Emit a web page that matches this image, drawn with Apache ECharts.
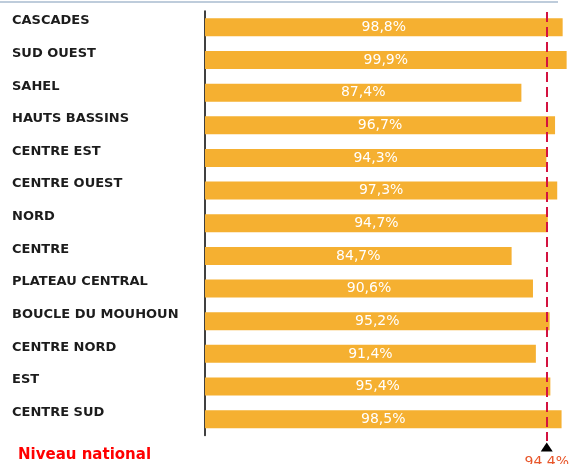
<!DOCTYPE html>
<html>
<head>
<meta charset="utf-8">
<script src="https://cdn.jsdelivr.net/npm/echarts@6/dist/echarts.min.js"></script>
<style>
  html, body { margin: 0; padding: 0; background: #fff; }
  #chart { width: 570px; height: 464px; }
</style>
</head>
<body>
<div id="chart"></div>
<script>
// régions, de haut en bas
const regions = [
  'CASCADES', 'SUD OUEST', 'SAHEL', 'HAUTS BASSINS', 'CENTRE EST', 'CENTRE OUEST', 'NORD',
  'CENTRE', 'PLATEAU CENTRAL', 'BOUCLE DU MOUHOUN', 'CENTRE NORD', 'EST', 'CENTRE SUD'
];
const taux = [98.8, 99.9, 87.4, 96.7, 94.3, 97.3, 94.7, 84.7, 90.6, 95.2, 91.4, 95.4, 98.5];
const niveauNational = 94.4;

const fmt = v => v.toFixed(1).replace('.', ',') + '%';

const chart = echarts.init(document.getElementById('chart'));
chart.setOption({
  animation: false,
  title: {
    text: 'Niveau national', left: 18, top: 448, padding: 0,
    textStyle: { color: '#ff0000', fontSize: 15, fontWeight: 'bold', fontFamily: 'DejaVu Sans' }
  },
  graphic: [
    { type: 'line', shape: { x1: 0, y1: 2, x2: 558, y2: 2 }, style: { stroke: '#a9bbcf', lineWidth: 1.5 } }
  ],
  grid: { left: 205, right: 3, top: 11, bottom: 28.5 },
  xAxis: {
    type: 'value', min: 0, max: 100, show: false
  },
  yAxis: {
    type: 'category', inverse: true, data: regions,
    axisLine: { show: true, lineStyle: { color: '#000', width: 1.5 } },
    axisTick: { show: false },
    axisLabel: {
      align: 'left', margin: 193, verticalAlign: 'bottom', lineHeight: 13,
      color: '#1c1c1c', fontSize: 13, fontWeight: 'bold', fontFamily: 'DejaVu Sans'
    }
  },
  series: [{
    type: 'bar', data: taux, barWidth: 18,
    itemStyle: { color: '#f5b031' },
    label: {
      show: true, position: 'inside', formatter: p => fmt(p.value),
      color: '#fff', fontSize: 14, fontFamily: 'DejaVu Sans'
    },
    markLine: {
      silent: true, symbol: ['none', 'none'],
      lineStyle: { color: '#d3123f', width: 2, type: [10, 5] },
      label: { show: false },
      data: [[
        { coord: [niveauNational, regions[0]], y: 12 },
        { coord: [niveauNational, regions[regions.length - 1]], y: 441 }
      ]]
    },
    markPoint: {
      silent: true, symbol: 'triangle', symbolSize: [12, 9],
      itemStyle: { color: '#000' },
      label: {
        show: true, position: 'bottom', distance: 4, formatter: fmt(niveauNational),
        color: '#e8562a', fontSize: 14, fontFamily: 'DejaVu Sans'
      },
      data: [{ coord: [niveauNational, regions[regions.length - 1]], y: 447 }]
    }
  }]
});
</script>
</body>
</html>
